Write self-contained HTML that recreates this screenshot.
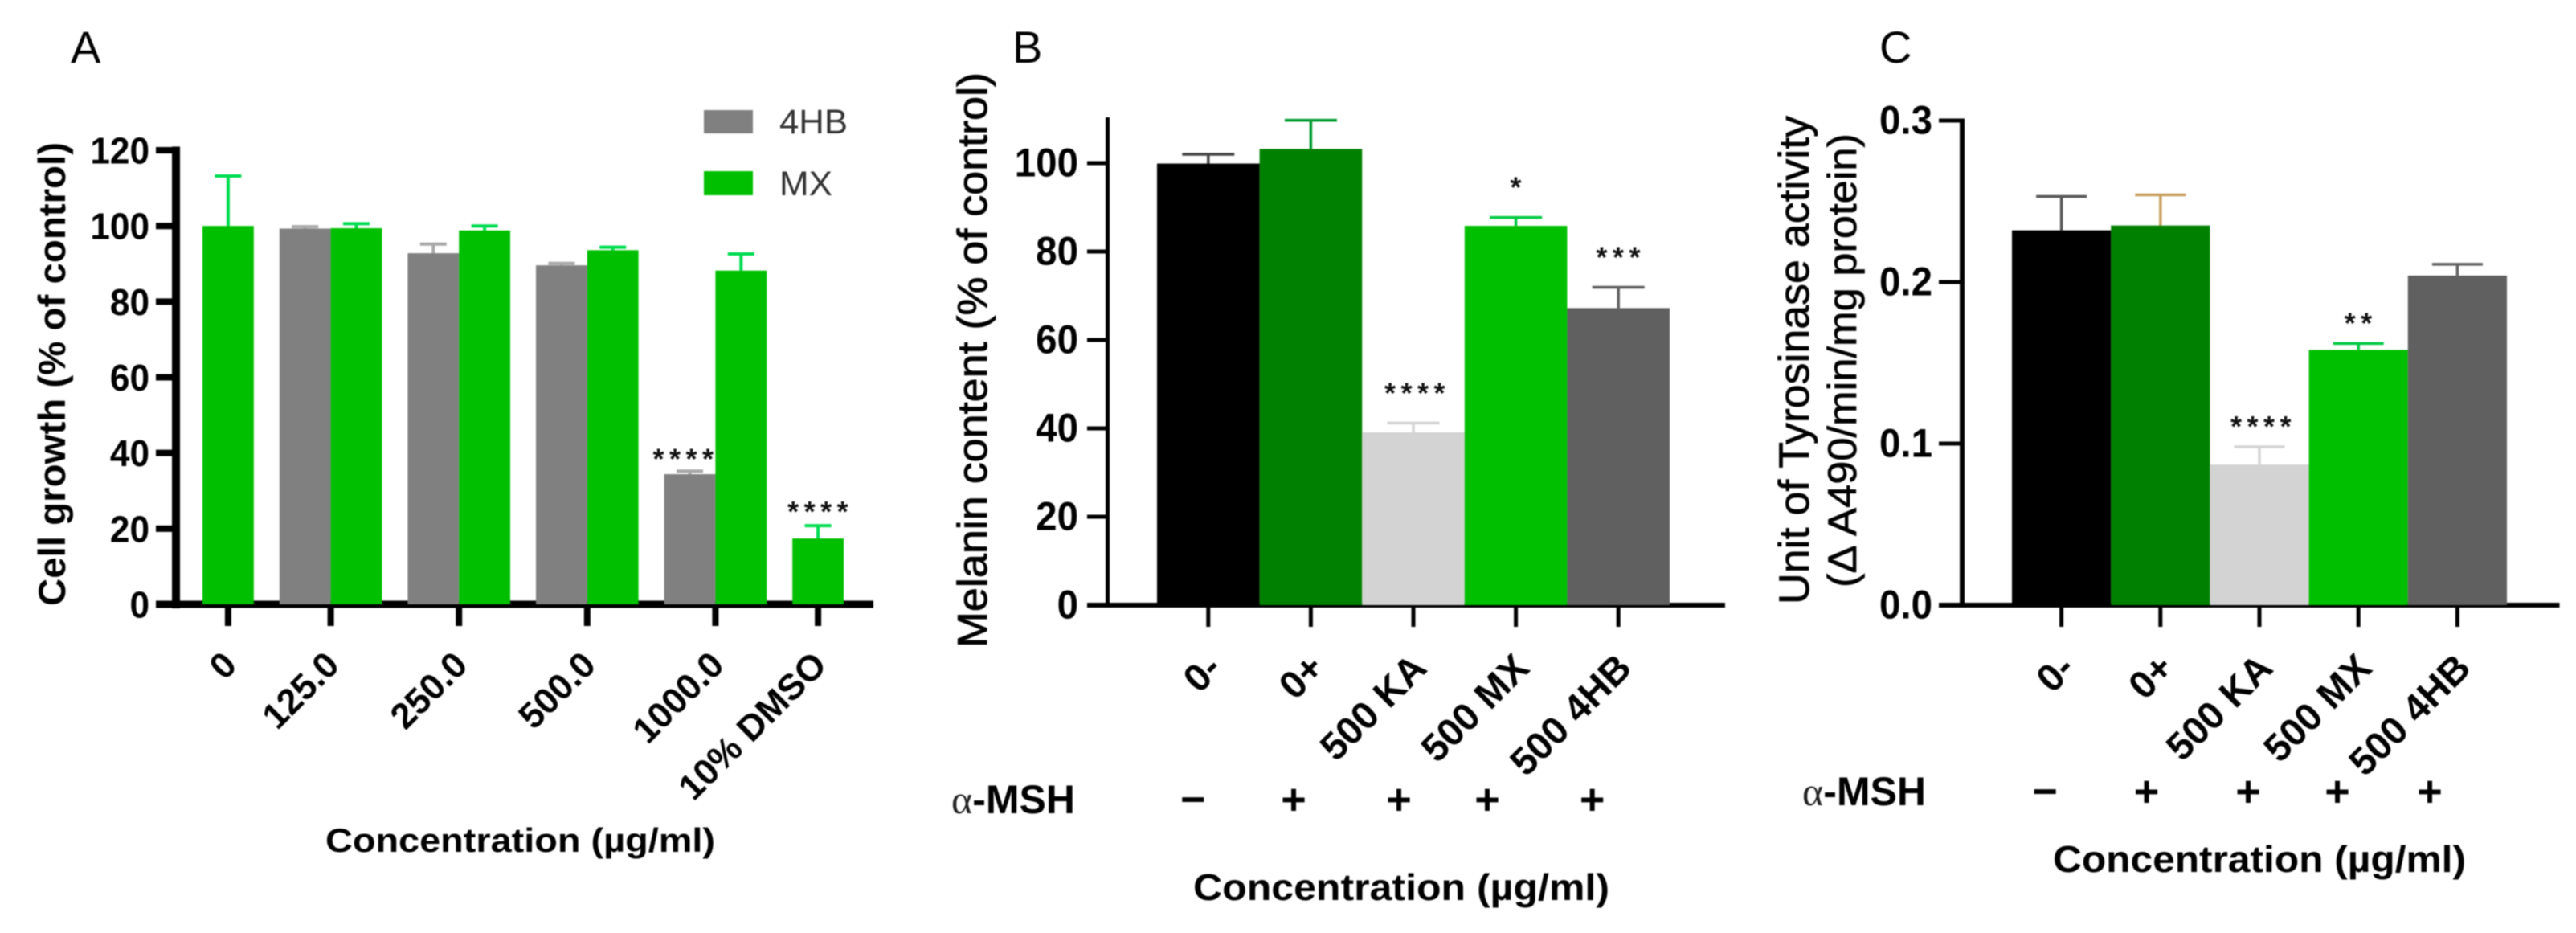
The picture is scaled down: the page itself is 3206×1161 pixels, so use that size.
<!DOCTYPE html>
<html lang="en">
<head>
<meta charset="utf-8">
<title>Cell growth, melanin content and tyrosinase activity</title>
<style>
html,body{margin:0;padding:0;background:#fff;}
body{width:3206px;height:1161px;overflow:hidden;}
svg{display:block;filter:blur(0.8px);font-family:"Liberation Sans",Arial,sans-serif;}
.t{font-weight:bold;fill:#000;}
.r{fill:#000;}
</style>
</head>
<body>
<svg id="fig" width="3206" height="1161" viewBox="0 0 3206 1161" xmlns="http://www.w3.org/2000/svg">
  <rect width="3206" height="1161" fill="#fff"/>

  <g id="panelA"></g>
  <g id="panelB"></g>
  <g id="panelC"></g>

  <text class="r" x="88" y="78" font-size="56">A</text>
  <text class="r" x="1260" y="78" font-size="56">B</text>
  <text class="r" x="2339" y="78" font-size="56">C</text>

  <rect x="876" y="137" width="61" height="29" fill="#808080"/>
  <text x="970" y="166" font-size="43" fill="#333" textLength="85" lengthAdjust="spacingAndGlyphs">4HB</text>
  <rect x="876" y="213" width="61" height="30" fill="#00be00"/>
  <text x="970" y="243" font-size="43" fill="#333" textLength="66" lengthAdjust="spacingAndGlyphs">MX</text>

  <text class="t" transform="translate(81,754) rotate(-90)" font-size="47" textLength="577" lengthAdjust="spacingAndGlyphs">Cell growth (% of control)</text>
  <text class="t" x="405" y="1060" font-size="42" textLength="485" lengthAdjust="spacingAndGlyphs">Concentration (µg/ml)</text>

  <text class="r" stroke="#000" stroke-width="0.9" transform="translate(1228,806) rotate(-90)" font-size="52" textLength="716" lengthAdjust="spacingAndGlyphs">Melanin content (% of control)</text>
  <text class="t" x="1485" y="1120" font-size="46" textLength="518" lengthAdjust="spacingAndGlyphs">Concentration (µg/ml)</text>
  <text x="1184" y="1012" font-size="50"><tspan font-family="'Liberation Serif',serif" fill="#222">α</tspan><tspan font-weight="bold">-MSH</tspan></text>

  <text class="r" stroke="#000" stroke-width="0.7" transform="translate(2251,752) rotate(-90)" font-size="53" textLength="608" lengthAdjust="spacingAndGlyphs">Unit of Tyrosinase activity</text>
  <text class="r" stroke="#000" stroke-width="0.7" transform="translate(2310,731) rotate(-90)" font-size="50" textLength="565" lengthAdjust="spacingAndGlyphs">(Δ A490/min/mg protein)</text>
  <text class="t" x="2555" y="1085" font-size="46" textLength="514" lengthAdjust="spacingAndGlyphs">Concentration (µg/ml)</text>
  <text x="2243" y="1002" font-size="50"><tspan font-family="'Liberation Serif',serif" fill="#222">α</tspan><tspan font-weight="bold">-MSH</tspan></text>
</svg>

<script>
// ---- Panel A data ----
const categoriesA = ['0', '125.0', '250.0', '500.0', '1000.0', '10% DMSO'];
const values4HB = [null, 99.3, 92.8, 89.6, 34.4, null];
const errors4HB = [null, 0.5, 2.4, 0.5, 0.8, null];
const valuesMX = [100, 99.4, 98.8, 93.6, 88.2, 17.4];
const errorsMX = [13.2, 1.2, 1.2, 0.8, 4.4, 3.4];
const starsA4HB = ['', '', '', '', '****', ''];
const starsAMX = ['', '', '', '', '', '****'];
const ticksA = [0, 20, 40, 60, 80, 100, 120];

// ---- Panel B data ----
const categoriesB = ['0-', '0+', '500 KA', '500 MX', '500 4HB'];
const valuesB = [99.9, 103.2, 39.1, 85.8, 67.2];
const errorsB = [2.1, 6.5, 2.1, 1.9, 4.7];
const starsB = ['', '', '****', '*', '***'];
const msh = ['−', '+', '+', '+', '+'];
const ticksB = [0, 20, 40, 60, 80, 100];

// ---- Panel C data ----
const categoriesC = ['0-', '0+', '500 KA', '500 MX', '500 4HB'];
const valuesC = [0.232, 0.235, 0.087, 0.158, 0.204];
const errorsC = [0.021, 0.019, 0.011, 0.004, 0.007];
const starsC = ['', '', '****', '**', ''];
const ticksC = ['0.0', '0.1', '0.2', '0.3'];

const NS = 'http://www.w3.org/2000/svg';
function make(parent, tag, attrs, text) {
  const el = document.createElementNS(NS, tag);
  for (const k in attrs) el.setAttribute(k, attrs[k]);
  if (text !== undefined) el.textContent = text;
  parent.appendChild(el);
  return el;
}
function slug(s) {
  return String(s).toLowerCase().replace(/[^a-z0-9.+-]+/g, '-').replace(/\+/g, 'plus');
}

// Draws axes and y ticks shared by all the panels.
function drawAxes(g, o) {
  const yLine = make(g, 'line', {x1: o.axisX, x2: o.axisX, y1: o.axisTop, y2: o.y0 + o.axisW / 2, stroke: '#000', 'stroke-width': o.axisW});
  
  
  const xLine = make(g, 'line', {x1: o.axisLeft, x2: o.axisRight, y1: o.y0, y2: o.y0, stroke: '#000', 'stroke-width': o.baseW});
  
  
  o.ticks.forEach(function (t) {
    const y = o.y(Number(t));
    if (Number(t) !== 0) {
      const tick = make(g, 'line', {x1: o.axisLeft, x2: o.axisX, y1: y, y2: y, stroke: '#000', 'stroke-width': o.tickW});
      
      
    }
    const label = make(g, 'text', {
      class: 't', 'font-size': o.tickFont, 'text-anchor': 'end',
      transform: 'translate(' + o.labelRight + ',' + (y + o.labelDy) + ') scale(' + o.labelScale + ',1)'
    }, t);
    
    
  });
}

function drawXTick(g, x, name, o) {
  const tick = make(g, 'line', {x1: x, x2: x, y1: o.y0, y2: o.y0 + o.xTickLen, stroke: '#000', 'stroke-width': o.xTickW});
  
  
  const label = make(g, 'text', {
    class: 't', 'font-size': o.xFont, 'text-anchor': 'end',
    transform: 'translate(' + (x + o.xDx) + ',' + o.xLabelY + ') rotate(-45)'
  }, name);
  
  
}

function drawBar(g, x, w, value, err, fill, errColor, name, o) {
  const topErr = o.y(value + err);
  const top = o.y(value);
  const mid = x + w / 2;
  const stem = make(g, 'line', {x1: mid, x2: mid, y1: top, y2: topErr, stroke: errColor, 'stroke-width': o.errW});
  
  
  const cap = make(g, 'line', {x1: mid - o.capW / 2, x2: mid + o.capW / 2, y1: topErr, y2: topErr, stroke: errColor, 'stroke-width': o.errW});
  
  
  const bar = make(g, 'rect', {x: x, y: top, width: w, height: o.y0 - top, fill: fill});
  
  
}

function drawStars(g, cx, cy, s, name) {
  if (!s) return;
  const star = make(g, 'text', {
    x: cx + 3, y: cy + 21, 'font-size': 36, 'font-weight': 'bold', 'text-anchor': 'middle',
    'letter-spacing': 6.5, fill: '#111'
  }, s);
  
  
}

function drawMsh(g, xs, baseline, panel) {
  msh.forEach(function (s, i) {
    const m = make(g, 'text', {
      x: xs[i], y: baseline, 'font-size': 54, 'font-weight': 'bold', 'text-anchor': 'middle', fill: '#000'
    }, s);
    
    
  });
}

// ---- Panel A ----
(function () {
  const g = document.getElementById('panelA');
  const y0 = 752, pxPerUnit = 4.708;
  const o = {
    y: function (v) { return y0 - v * pxPerUnit; },
    y0: y0, ticks: ticksA, axisX: 219, axisW: 10, axisTop: 182.5, axisLeft: 194, axisRight: 1087,
    baseW: 9, tickW: 8, labelRight: 186, labelDy: 16.5, labelScale: 0.96, tickFont: 46,
    xTickLen: 27, xTickW: 8, xFont: 45, xDx: 13, xLabelY: 830, errW: 4, capW: 33
  };
  drawAxes(g, o);
  const barW = 63.8, gap = 32;
  let cursor = 252;
  categoriesA.forEach(function (cat, i) {
    const has4 = values4HB[i] !== null, hasM = valuesMX[i] !== null;
    const n = (has4 ? 1 : 0) + (hasM ? 1 : 0);
    const center = cursor + n * barW / 2;
    if (has4) {
      drawBar(g, cursor, barW, values4HB[i], errors4HB[i], '#808080', '#a8a8a8', '4hb-' + slug(cat), o);
      drawStars(g, cursor + barW / 2 - 8, o.y(values4HB[i] + errors4HB[i]) - 24, starsA4HB[i], 'a-4hb-' + slug(cat));
      cursor += barW;
    }
    if (hasM) {
      drawBar(g, cursor, barW, valuesMX[i], errorsMX[i], '#00be00', '#00dc50', 'mx-' + slug(cat), o);
      drawStars(g, cursor + barW / 2, o.y(valuesMX[i] + errorsMX[i]) - 26, starsAMX[i], 'a-mx-' + slug(cat));
      cursor += barW;
    }
    drawXTick(g, center, cat, o);
    cursor += gap;
  });
})();

// Single-series panels B and C
function drawSingle(g, cats, vals, errs, stars, o, colors) {
  cats.forEach(function (cat, i) {
    const x = o.startX + i * o.band;
    drawBar(g, x, o.band, vals[i], errs[i], colors.fill[i], colors.err[i], slug(cat), o);
    drawXTick(g, x + o.band / 2, cat, o);
    drawStars(g, x + o.band / 2 + (i === 2 ? 2 : 0), o.y(vals[i] + errs[i]) - o.starGap, stars[i], slug(cat));
  });
}
const barFills = ['#000000', '#008000', '#d3d3d3', '#00be00', '#606060'];

// ---- Panel B ----
(function () {
  const g = document.getElementById('panelB');
  const y0 = 753, pxPerUnit = 5.5;
  const o = {
    y: function (v) { return y0 - v * pxPerUnit; },
    y0: y0, ticks: ticksB, axisX: 1378.5, axisW: 5, axisTop: 146, axisLeft: 1353, axisRight: 2147,
    baseW: 6, tickW: 5, labelRight: 1342, labelDy: 16.5, labelScale: 0.95, tickFont: 50,
    xTickLen: 27, xTickW: 5, xFont: 48, xDx: 19, xLabelY: 834, errW: 3.5, capW: 65,
    startX: 1440, band: 127.6, starGap: 46
  };
  drawAxes(g, o);
  drawSingle(g, categoriesB, valuesB, errorsB, starsB, o, {
    fill: barFills, err: ['#444444', '#009a30', '#d3d3d3', '#00c840', '#606060']
  });
  drawMsh(g, [1484.6, 1610, 1741, 1851, 1981.6], 1013, 'b');
})();

// ---- Panel C ----
(function () {
  const g = document.getElementById('panelC');
  const y0 = 753, pxPerUnit = 2010;
  const o = {
    y: function (v) { return y0 - v * pxPerUnit; },
    y0: y0, ticks: ticksC, axisX: 2442, axisW: 6, axisTop: 147.5, axisLeft: 2413, axisRight: 3185.5,
    baseW: 6, tickW: 5, labelRight: 2405, labelDy: 16.5, labelScale: 0.95, tickFont: 50,
    xTickLen: 27, xTickW: 5, xFont: 48, xDx: 19, xLabelY: 834, errW: 3.5, capW: 63,
    startX: 2504, band: 123.2, starGap: 34
  };
  drawAxes(g, o);
  drawSingle(g, categoriesC, valuesC, errorsC, starsC, o, {
    fill: barFills, err: ['#555555', '#c8a060', '#d3d3d3', '#00c840', '#606060']
  });
  drawMsh(g, [2545, 2671.5, 2798, 2909, 3024], 1003, 'c');
})();
</script>
</body>
</html>
